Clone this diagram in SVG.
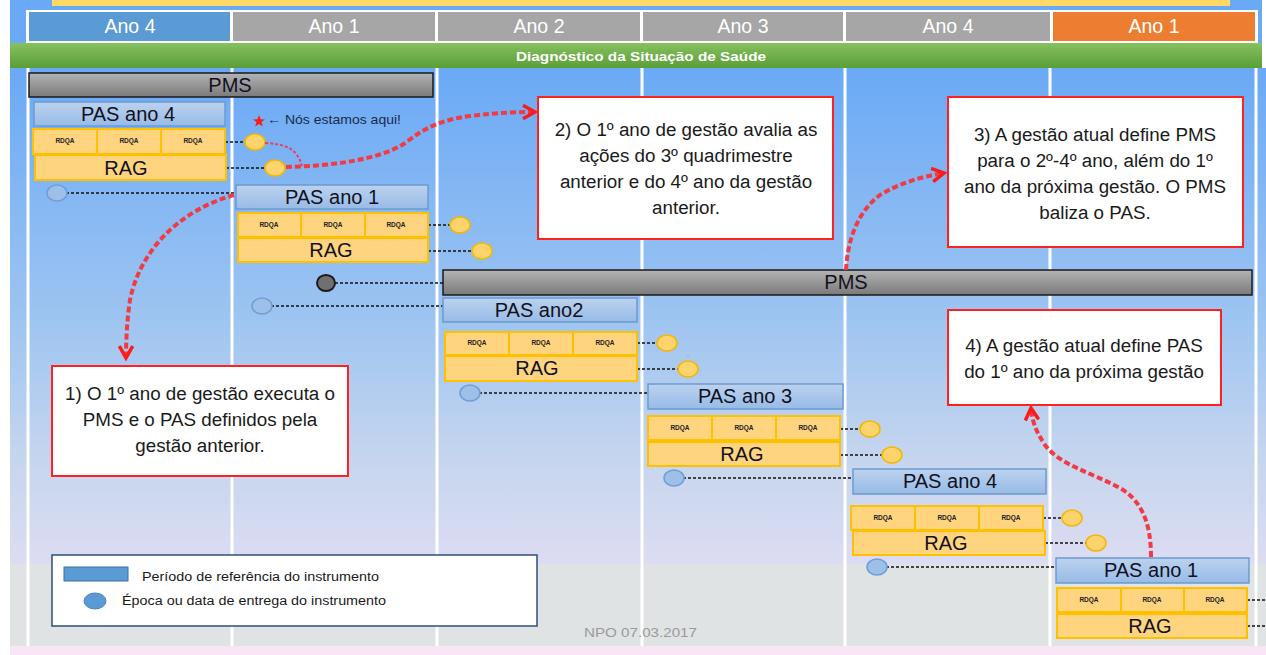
<svg xmlns="http://www.w3.org/2000/svg" width="1266" height="655" viewBox="0 0 1266 655">
<style>
text{font-family:"Liberation Sans",Arial,sans-serif;}
.hdr{fill:#ffffff;font-size:19.5px;text-anchor:middle;}
.pas{fill:url(#gPas);stroke:#6c9ad0;stroke-width:1.5;}
.pms{fill:url(#gPms);stroke:#1a1a1a;stroke-width:1.5;}
.yel{fill:#fed47e;stroke:#ffc000;stroke-width:2;}
.big{fill:#111122;font-size:20px;text-anchor:middle;}
.tiny{fill:#222;font-size:6.5px;font-weight:bold;text-anchor:middle;}
.cy{fill:#fdd36d;stroke:#f2b800;stroke-width:1.5;}
.cb{fill:#9ebfe8;stroke:#6f9fd6;stroke-width:1.5;}
.cd{fill:#707070;stroke:#1a1a1a;stroke-width:2;}
.dl{stroke:#111;stroke-width:1.6;stroke-dasharray:3 2;fill:none;}
.call{fill:#ffffff;stroke:#ff2020;stroke-width:2;}
.ct{fill:#1a1a1a;font-size:18.8px;text-anchor:middle;}
.ra{fill:none;stroke:#f23a44;stroke-width:4;stroke-dasharray:6 3;}
.vl{stroke:#ffffff;stroke-width:3;}
</style>
<defs>
<linearGradient id="gBg" x1="0" y1="0" x2="0" y2="1">
<stop offset="0" stop-color="#6aa9f6"/>
<stop offset="0.5" stop-color="#9dc4f1"/>
<stop offset="0.8" stop-color="#c7d6ee"/>
<stop offset="1" stop-color="#dcdcf2"/>
</linearGradient>
<linearGradient id="gGreen" x1="0" y1="0" x2="0" y2="1">
<stop offset="0" stop-color="#86c160"/>
<stop offset="1" stop-color="#5b9e36"/>
</linearGradient>
<linearGradient id="gPas" x1="0" y1="0" x2="0" y2="1">
<stop offset="0" stop-color="#bcd2ef"/>
<stop offset="1" stop-color="#97bbe6"/>
</linearGradient>
<linearGradient id="gPms" x1="0" y1="0" x2="0" y2="1">
<stop offset="0" stop-color="#b4b4b4"/>
<stop offset="1" stop-color="#7a7a7a"/>
</linearGradient>
<marker id="arr" viewBox="0 0 12 12" refX="10" refY="6" markerWidth="4" markerHeight="4" orient="auto" markerUnits="strokeWidth">
<path d="M1,1 L10,6 L1,11" fill="none" stroke="#ff1a1a" stroke-width="2.6"/>
</marker>
</defs>

<!-- background -->
<rect x="0" y="0" width="1266" height="655" fill="#ffffff"/>
<rect x="10" y="0" width="1252" height="44" fill="#6aa9f6"/>
<rect x="52" y="0" width="1178" height="6" fill="#ffd966"/>
<rect x="10" y="68" width="1256" height="496" fill="url(#gBg)"/>
<rect x="10" y="564" width="1256" height="82" fill="#dfe3e4"/>
<rect x="10" y="646" width="1256" height="9" fill="#f8e6f6"/>

<!-- header -->
<g id="header">
<rect x="26" y="10" width="1232" height="34" fill="#ffffff"/>
<rect x="29" y="12" width="201" height="29" fill="#5b9bd5"/>
<rect x="233" y="12" width="202" height="29" fill="#a6a6a6"/>
<rect x="438" y="12" width="202" height="29" fill="#a6a6a6"/>
<rect x="643" y="12" width="200" height="29" fill="#a6a6a6"/>
<rect x="846" y="12" width="204" height="29" fill="#a6a6a6"/>
<rect x="1053" y="12" width="202" height="29" fill="#ed7d31"/>
<text class="hdr" x="130" y="33">Ano 4</text>
<text class="hdr" x="334" y="33">Ano 1</text>
<text class="hdr" x="539" y="33">Ano 2</text>
<text class="hdr" x="743" y="33">Ano 3</text>
<text class="hdr" x="948" y="33">Ano 4</text>
<text class="hdr" x="1154" y="33">Ano 1</text>
</g>
<g id="diag">
<rect x="10" y="43" width="1252" height="25" fill="url(#gGreen)"/>
<text x="516" y="61" fill="#ffffff" font-size="12.5" font-weight="bold" textLength="250" lengthAdjust="spacingAndGlyphs">Diagnóstico da Situação de Saúde</text>
</g>

<!-- column lines -->
<g id="columns">
<line class="vl" x1="28" y1="68" x2="28" y2="646"/>
<line class="vl" x1="232" y1="68" x2="232" y2="646"/>
<line class="vl" x1="437" y1="68" x2="437" y2="646"/>
<line class="vl" x1="642" y1="68" x2="642" y2="646"/>
<line class="vl" x1="845" y1="68" x2="845" y2="646"/>
<line class="vl" x1="1050" y1="68" x2="1050" y2="646"/>
<line class="vl" x1="1256" y1="68" x2="1256" y2="646"/>
</g>

<!-- dashed connectors -->
<g id="connectors">
<path class="dl" d="M225,142 H246"/>
<path class="dl" d="M226,168 H266"/>
<path class="dl" d="M66,193 H236"/>
<path class="dl" d="M428,225 H451"/>
<path class="dl" d="M428,251 H473"/>
<path class="dl" d="M335,283 H443"/>
<path class="dl" d="M271,306 H443"/>
<path class="dl" d="M637,343 H658"/>
<path class="dl" d="M637,369 H679"/>
<path class="dl" d="M479,393 H648"/>
<path class="dl" d="M840,429 H861"/>
<path class="dl" d="M840,455 H883"/>
<path class="dl" d="M683,478 H853"/>
<path class="dl" d="M1043,518 H1063"/>
<path class="dl" d="M1045,543 H1087"/>
<path class="dl" d="M886,567 H1056"/>
<path class="dl" d="M1247,600 H1266"/>
<path class="dl" d="M1247,626 H1266"/>
</g>

<!-- PMS 1 -->
<g id="pms1">
<rect class="pms" x="29" y="73" width="404" height="24"/>
<text class="big" x="230" y="92" font-size="18.5">PMS</text>
</g>

<!-- PAS ano 4 (previous) -->
<g id="pas4prev">
<rect class="pas" x="34" y="102" width="191" height="24"/>
<text class="big" x="128" y="121">PAS ano 4</text>
</g>
<g id="rdqa4prev">
<rect class="yel" x="33" y="129" width="64" height="25"/><rect class="yel" x="97" y="129" width="64" height="25"/><rect class="yel" x="161" y="129" width="64" height="25"/>
<text class="tiny" x="65" y="143">RDQA</text><text class="tiny" x="129" y="143">RDQA</text><text class="tiny" x="193" y="143">RDQA</text>
</g>
<g id="rag4prev">
<rect class="yel" x="35" y="155" width="191" height="25"/>
<text class="big" x="126" y="175">RAG</text>
</g>
<g id="dots4prev">
<ellipse class="cy" cx="255" cy="142" rx="10" ry="8"/>
<ellipse class="cy" cx="275" cy="168" rx="10" ry="8"/>
<ellipse class="cb" cx="57" cy="193" rx="10" ry="8"/>
</g>

<!-- PAS ano 1 -->
<g id="pas1">
<rect class="pas" x="236" y="185" width="192" height="24"/>
<text class="big" x="332" y="204">PAS ano 1</text>
</g>
<g id="rdqa1">
<rect class="yel" x="238" y="213" width="63" height="24"/><rect class="yel" x="301" y="213" width="64" height="24"/><rect class="yel" x="365" y="213" width="63" height="24"/>
<text class="tiny" x="269" y="227">RDQA</text><text class="tiny" x="333" y="227">RDQA</text><text class="tiny" x="396" y="227">RDQA</text>
</g>
<g id="rag1">
<rect class="yel" x="238" y="238" width="190" height="24"/>
<text class="big" x="331" y="257">RAG</text>
</g>
<g id="dots1">
<ellipse class="cy" cx="460" cy="225" rx="10" ry="8"/>
<ellipse class="cy" cx="482" cy="251" rx="10" ry="8"/>
<ellipse class="cd" cx="326" cy="283" rx="9" ry="8"/>
<ellipse class="cb" cx="262" cy="306" rx="10" ry="8"/>
</g>

<!-- PMS 2 -->
<g id="pms2">
<rect class="pms" x="443" y="270" width="809" height="25"/>
<text class="big" x="846" y="289" font-size="18.5">PMS</text>
</g>

<!-- PAS ano2 -->
<g id="pas2">
<rect class="pas" x="443" y="298" width="194" height="24"/>
<text class="big" x="539" y="317">PAS ano2</text>
</g>
<g id="rdqa2">
<rect class="yel" x="445" y="332" width="64" height="23"/><rect class="yel" x="509" y="332" width="64" height="23"/><rect class="yel" x="573" y="332" width="64" height="23"/>
<text class="tiny" x="477" y="345">RDQA</text><text class="tiny" x="541" y="345">RDQA</text><text class="tiny" x="605" y="345">RDQA</text>
</g>
<g id="rag2">
<rect class="yel" x="445" y="356" width="192" height="25"/>
<text class="big" x="537" y="375">RAG</text>
</g>
<g id="dots2">
<ellipse class="cy" cx="667" cy="343" rx="10" ry="8"/>
<ellipse class="cy" cx="688" cy="369" rx="10" ry="8"/>
<ellipse class="cb" cx="470" cy="393" rx="10" ry="8"/>
</g>

<!-- PAS ano 3 -->
<g id="pas3">
<rect class="pas" x="648" y="384" width="195" height="25"/>
<text class="big" x="745" y="403">PAS ano 3</text>
</g>
<g id="rdqa3">
<rect class="yel" x="648" y="416" width="64" height="24"/><rect class="yel" x="712" y="416" width="64" height="24"/><rect class="yel" x="776" y="416" width="64" height="24"/>
<text class="tiny" x="680" y="430">RDQA</text><text class="tiny" x="744" y="430">RDQA</text><text class="tiny" x="808" y="430">RDQA</text>
</g>
<g id="rag3">
<rect class="yel" x="648" y="442" width="192" height="24"/>
<text class="big" x="742" y="461">RAG</text>
</g>
<g id="dots3">
<ellipse class="cy" cx="870" cy="429" rx="10" ry="8"/>
<ellipse class="cy" cx="892" cy="455" rx="10" ry="8"/>
<ellipse class="cb" cx="674" cy="478" rx="10" ry="8"/>
</g>

<!-- PAS ano 4 -->
<g id="pas4">
<rect class="pas" x="853" y="469" width="193" height="25"/>
<text class="big" x="950" y="488">PAS ano 4</text>
</g>
<g id="rdqa4">
<rect class="yel" x="851" y="506" width="64" height="24"/><rect class="yel" x="915" y="506" width="64" height="24"/><rect class="yel" x="979" y="506" width="64" height="24"/>
<text class="tiny" x="883" y="520">RDQA</text><text class="tiny" x="947" y="520">RDQA</text><text class="tiny" x="1011" y="520">RDQA</text>
</g>
<g id="rag4">
<rect class="yel" x="853" y="531" width="192" height="24"/>
<text class="big" x="946" y="550">RAG</text>
</g>
<g id="dots4">
<ellipse class="cy" cx="1072" cy="518" rx="10" ry="8"/>
<ellipse class="cy" cx="1096" cy="543" rx="10" ry="8"/>
<ellipse class="cb" cx="877" cy="567" rx="10" ry="8"/>
</g>

<!-- PAS ano 1 (next) -->
<g id="pas1next">
<rect class="pas" x="1056" y="558" width="193" height="25"/>
<text class="big" x="1151" y="577">PAS ano 1</text>
</g>
<g id="rdqa1next">
<rect class="yel" x="1057" y="588" width="64" height="24"/><rect class="yel" x="1121" y="588" width="63" height="24"/><rect class="yel" x="1184" y="588" width="63" height="24"/>
<text class="tiny" x="1089" y="602">RDQA</text><text class="tiny" x="1152" y="602">RDQA</text><text class="tiny" x="1215" y="602">RDQA</text>
</g>
<g id="rag1next">
<rect class="yel" x="1057" y="614" width="190" height="24"/>
<text class="big" x="1150" y="633">RAG</text>
</g>

<!-- here marker -->
<g id="here">
<polygon points="259,115 260.6,119.3 265,119.4 261.5,122.1 262.8,126.4 259,123.9 255.2,126.4 256.5,122.1 253,119.4 257.4,119.3" fill="#ff1a1a"/>
<text x="267" y="124" font-size="13.5" fill="#1a2a4a" textLength="134" lengthAdjust="spacingAndGlyphs">← Nós estamos aqui!</text>
</g>

<!-- red curved arrows -->
<g id="arrows">
<path d="M265,143 C285,144 297,148 302,166" fill="none" stroke="#e8405a" stroke-width="2" stroke-dasharray="3 2"/>
<path class="ra" d="M286,167 C330,166 380,160 405,143 C425,128 440,120 470,116 C495,113 515,112 535,112" marker-end="url(#arr)"/>
<path class="ra" d="M234,195 C180,210 140,250 130,300 C127,320 126,340 126,358" marker-end="url(#arr)"/>
<path class="ra" d="M846,270 C848,235 860,210 880,195 C900,183 920,177 944,173" marker-end="url(#arr)"/>
<path class="ra" d="M1151,557 C1151,520 1140,500 1120,488 C1090,472 1060,465 1045,445 C1035,430 1032,420 1031,408" marker-end="url(#arr)"/>
</g>

<!-- callouts -->
<g id="callout1">
<rect class="call" x="52" y="366" width="296" height="110"/>
<text class="ct" x="200" y="400">1) O 1º ano de gestão executa o</text>
<text class="ct" x="200" y="426">PMS e o PAS definidos pela</text>
<text class="ct" x="200" y="452">gestão anterior.</text>
</g>
<g id="callout2">
<rect class="call" x="538" y="97" width="295" height="142"/>
<text class="ct" x="686" y="136">2) O 1º ano de gestão avalia as</text>
<text class="ct" x="686" y="162">ações do 3º quadrimestre</text>
<text class="ct" x="686" y="188">anterior e do 4º ano da gestão</text>
<text class="ct" x="686" y="214">anterior.</text>
</g>
<g id="callout3">
<rect class="call" x="948" y="97" width="295" height="150"/>
<text class="ct" x="1095" y="141">3) A gestão atual define PMS</text>
<text class="ct" x="1095" y="167">para o 2º-4º ano, além do 1º</text>
<text class="ct" x="1095" y="193">ano da próxima gestão. O PMS</text>
<text class="ct" x="1095" y="219">baliza o PAS.</text>
</g>
<g id="callout4">
<rect class="call" x="948" y="310" width="273" height="95"/>
<text class="ct" x="1084" y="352">4) A gestão atual define PAS</text>
<text class="ct" x="1084" y="378">do 1º ano da próxima gestão</text>
</g>

<!-- legend -->
<g id="legend">
<rect x="52" y="555" width="485" height="71" fill="#ffffff" stroke="#2f4f7a" stroke-width="1.5"/>
<rect x="64" y="567" width="64" height="14" fill="#5b9bd5" stroke="#41719c" stroke-width="1"/>
<text x="142" y="581" font-size="12" fill="#1a1a1a" textLength="237" lengthAdjust="spacingAndGlyphs">Período de referência do instrumento</text>
<ellipse cx="95" cy="601" rx="11" ry="8" fill="#5b9bd5" stroke="#4a86c4" stroke-width="1"/>
<text x="122" y="605" font-size="12" fill="#1a1a1a" textLength="264" lengthAdjust="spacingAndGlyphs">Época ou data de entrega do instrumento</text>
</g>

<text x="584" y="637" font-size="12.5" fill="#9a9a9a" textLength="113" lengthAdjust="spacingAndGlyphs">NPO  07.03.2017</text>
</svg>
